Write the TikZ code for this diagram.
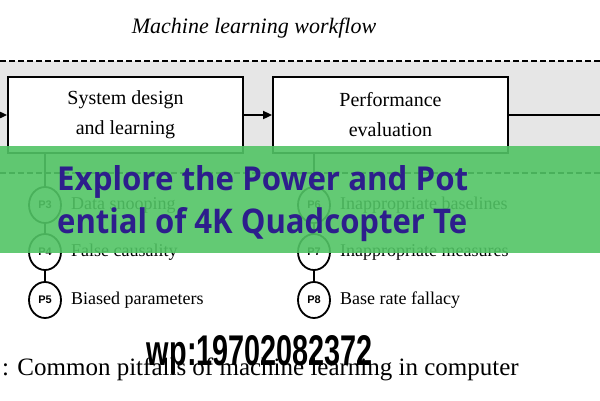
\documentclass[tikz,border=0pt]{standalone}
\usepackage{fontspec}
\setmainfont{Liberation Serif}
\newfontfamily\pfont{Liberation Sans}
\newfontfamily\bannerfont{Open Sans}
\usetikzlibrary{shapes.geometric,arrows.meta}
\definecolor{bandgray}{HTML}{E6E6E6}
\definecolor{bannergreen}{HTML}{52C465}
\definecolor{bannertext}{HTML}{2D1E8C}
\begin{document}
\begin{tikzpicture}[x=1pt,y=-1pt,
 box/.style={draw,line width=1.8pt,fill=white,minimum width=235pt,minimum height=76pt,align=center,inner sep=0pt,font=\fontsize{20}{30}\selectfont},
 pit/.style={draw,ellipse,line width=1.8pt,fill=white,minimum width=32pt,minimum height=36pt,inner sep=0pt,font=\pfont\bfseries\fontsize{11}{11}\selectfont},
 lbl/.style={anchor=west,font=\fontsize{18}{18}\selectfont,inner sep=0pt},
 conn/.style={line width=1.5pt},
 band/.style={dash pattern=on 6pt off 3pt,line width=1.5pt},
 arr/.style={line width=1.8pt,-{Triangle[length=9pt,width=8pt]}},
 bannerline/.style={anchor=base west,inner sep=0pt,text=bannertext,font=\bannerfont\bfseries}]
\useasboundingbox (0,0) rectangle (600,400);
\fill[bandgray] (0,61) rectangle (600,173);
\draw[band] (0,61) -- (600,61);
\draw[band] (0,173) -- (600,173);
\node[font=\itshape\fontsize{22}{22}\selectfont] (title) at (254,28) {Machine learning workflow};
\node[box] (sys) at (125.5,115) {System design\\and learning};
\node[box] (perf) at (390.5,115) {Performance\\evaluation};
\coordinate (in) at (0,115);
\coordinate (out) at (600,115);
\draw[arr] (in) -- (sys.west);
\draw[arr] (sys.east) -- (perf.west);
\draw[line width=1.8pt] (perf.east) -- (out);
\node[pit] (p3) at (45,205) {P3};
\node[pit] (p4) at (45,252) {P4};
\node[pit] (p5) at (45,300) {P5};
\node[pit] (p6) at (314,205) {P6};
\node[pit] (p7) at (314,252) {P7};
\node[pit] (p8) at (314,300) {P8};
\draw[conn] (p3.north) -- (p3 |- sys.south);
\draw[conn] (p3) -- (p4);
\draw[conn] (p4) -- (p5);
\draw[conn] (p6.north) -- (p6 |- perf.south);
\draw[conn] (p6) -- (p7);
\draw[conn] (p7) -- (p8);
\node[lbl] (l3) at (71,205) {Data snooping};
\node[lbl] (l4) at (71,252) {False causality};
\node[lbl] (l5) at (71,300) {Biased parameters};
\node[lbl] (l6) at (340,205) {Inappropriate baselines};
\node[lbl] (l7) at (340,252) {Inappropriate measures};
\node[lbl] (l8) at (340,300) {Base rate fallacy};
\node[anchor=base west,inner sep=0pt,font=\fontsize{25}{25}\selectfont] (cap) at (2,375) {: Common pitfalls of machine learning in computer};
\fill[bannergreen,opacity=0.9] (0,146) rectangle (600,253);
\node[bannerline] (b1) at (57,190) {\resizebox{411pt}{25pt}{Explore the Power and Pot}};
\node[bannerline] (b2) at (57,233) {\resizebox{410pt}{26pt}{ential of 4K Quadcopter Te}};
\node[anchor=base,inner sep=0pt] (wm) at (260,365) {\resizebox{226pt}{30pt}{\pfont\bfseries wp:19702082372}};
\end{tikzpicture}
\end{document}
